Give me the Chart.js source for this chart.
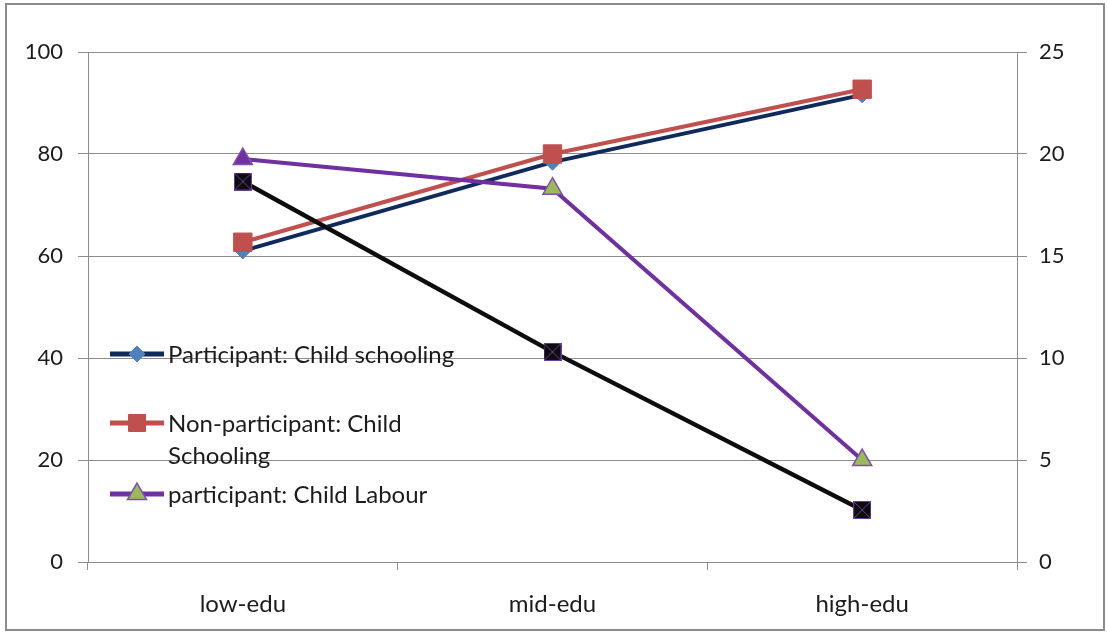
<!DOCTYPE html>
<html>
<head>
<meta charset="utf-8">
<script src="https://cdn.jsdelivr.net/npm/chart.js@4/dist/chart.umd.min.js"></script>
<style>
  html, body { margin: 0; padding: 0; background: #fff; }
  #wrap { position: relative; width: 1107px; height: 633px; }
</style>
</head>
<body>
<div id="wrap"><canvas id="c" width="1107" height="633"></canvas></div>
<script>
// Education levels along the category axis
const categories = ['low-edu', 'mid-edu', 'high-edu'];

// Schooling shares (left axis, %)
const participantSchooling = [61.0, 78.4, 91.6];
const nonParticipantSchooling = [62.7, 80.0, 92.7];

// Child labour (right axis)
const participantLabour = [19.75, 18.3, 5.0];
const nonParticipantLabour = [18.65, 10.3, 2.55];

// Axis tick settings
const leftTicks = { min: 0, max: 100, step: 20 };
const rightTicks = { min: 0, max: 25, step: 5 };

const FONT = 'Lato, "Open Sans", sans-serif';
const GRID = '#8c8c8c';
const TEXT = '#1c1c1c';

// Black square with a thin purple cross, used for the last series
function crossSquare(size) {
  const cv = document.createElement('canvas');
  cv.width = size; cv.height = size;
  const g = cv.getContext('2d');
  g.fillStyle = '#0d0d0d';
  g.fillRect(0, 0, size, size);
  g.strokeStyle = '#6a3d9a';
  g.lineWidth = 1;
  g.strokeRect(0.5, 0.5, size - 1, size - 1);
  g.beginPath();
  g.moveTo(1, 1); g.lineTo(size - 1, size - 1);
  g.moveTo(size - 1, 1); g.lineTo(1, size - 1);
  g.stroke();
  return cv;
}

// Outer frame around the whole figure
const framePlugin = {
  id: 'frame',
  beforeDraw(chart) {
    const ctx = chart.ctx;
    ctx.save();
    ctx.fillStyle = '#fff';
    ctx.fillRect(0, 0, chart.width, chart.height);
    ctx.strokeStyle = '#8a8a8a';
    ctx.lineWidth = 2;
    ctx.strokeRect(6, 4, 1098, 626);
    ctx.restore();
  }
};

// Legend drawn inside the plot area, with wrapped text
const insideLegend = {
  id: 'insideLegend',
  afterDraw(chart) {
    const ctx = chart.ctx;
    const area = chart.chartArea;
    const items = [
      { ds: 0, y: 354, lines: ['Participant: Child schooling'] },
      { ds: 1, y: 423, lines: ['Non-participant: Child', 'Schooling'] },
      { ds: 2, y: 494, lines: ['participant: Child Labour'] }
    ];
    const x0 = area.left + 22;
    ctx.save();
    items.forEach(it => {
      const ds = chart.data.datasets[it.ds];
      ctx.strokeStyle = ds.borderColor;
      ctx.lineWidth = 5;
      ctx.beginPath();
      ctx.moveTo(x0, it.y);
      ctx.lineTo(x0 + 54, it.y);
      ctx.stroke();
      const bg = Array.isArray(ds.pointBackgroundColor) ? ds.pointBackgroundColor[1] : ds.pointBackgroundColor;
      ctx.fillStyle = bg;
      ctx.strokeStyle = ds.pointBorderColor;
      ctx.lineWidth = ds.pointBorderWidth;
      Chart.helpers.drawPoint(ctx, {
        pointStyle: ds.pointStyle,
        radius: ds.legendRadius,
        rotation: 0,
        borderWidth: ds.pointBorderWidth
      }, x0 + 27, it.y);
      ctx.fillStyle = TEXT;
      ctx.font = '24px ' + FONT;
      ctx.textBaseline = 'middle';
      ctx.textAlign = 'left';
      it.lines.forEach((t, i) => ctx.fillText(t, x0 + 58, it.y + 1 + i * 32));
    });
    ctx.restore();
  }
};

new Chart(document.getElementById('c'), {
  type: 'line',
  data: {
    labels: categories,
    datasets: [
      {
        label: 'Participant: Child schooling',
        data: participantSchooling,
        yAxisID: 'y',
        borderColor: '#0f2a5c',
        borderWidth: 4,
        pointStyle: 'rectRot',
        pointRadius: 8,
        legendRadius: 8,
        pointBackgroundColor: '#4f81bd',
        pointBorderColor: '#4f81bd',
        pointBorderWidth: 1,
        order: 4
      },
      {
        label: 'Non-participant: Child Schooling',
        data: nonParticipantSchooling,
        yAxisID: 'y',
        borderColor: '#c0504d',
        borderWidth: 4,
        pointStyle: 'rect',
        pointRadius: 13,
        legendRadius: 12,
        pointBackgroundColor: '#c0504d',
        pointBorderColor: '#c0504d',
        pointBorderWidth: 1,
        order: 3
      },
      {
        label: 'participant: Child Labour',
        data: participantLabour,
        yAxisID: 'y1',
        borderColor: '#7030a0',
        borderWidth: 4,
        pointStyle: 'triangle',
        pointRadius: 11,
        legendRadius: 11,
        pointBackgroundColor: ['#7030a0', '#9bbb59', '#9bbb59'],
        pointBorderColor: '#7f4fb0',
        pointBorderWidth: 1.5,
        order: 2
      },
      {
        label: 'Non-participant: Child Labour',
        data: nonParticipantLabour,
        yAxisID: 'y1',
        borderColor: '#0d0d0d',
        borderWidth: 4.5,
        pointStyle: crossSquare(18),
        pointRadius: 9,
        legendRadius: 9,
        pointBackgroundColor: '#0d0d0d',
        pointBorderColor: '#0d0d0d',
        pointBorderWidth: 1,
        order: 1
      }
    ]
  },
  options: {
    responsive: false,
    animation: false,
    events: [],
    layout: { padding: { top: 52, left: 0, right: 0, bottom: 0 } },
    plugins: { legend: { display: false }, tooltip: { enabled: false } },
    elements: { line: { tension: 0 } },
    scales: {
      x: {
        type: 'category',
        offset: true,
        grid: { offset: true, drawOnChartArea: false, drawTicks: true, tickLength: 8, color: GRID, lineWidth: 1 },
        border: { display: true, color: GRID, width: 1 },
        ticks: { color: TEXT, font: { family: FONT, size: 24 }, padding: 20, maxRotation: 0 },
        afterFit(s) { s.height = 71; }
      },
      y: {
        position: 'left',
        min: leftTicks.min, max: leftTicks.max,
        grid: { color: GRID, lineWidth: 1, tickLength: 10, drawTicks: true },
        border: { display: true, color: GRID, width: 1 },
        ticks: { stepSize: leftTicks.step, color: TEXT, font: { family: FONT, size: 22 }, padding: 15 },
        afterFit(s) { s.width = 88; }
      },
      y1: {
        position: 'right',
        min: rightTicks.min, max: rightTicks.max,
        grid: { drawOnChartArea: false, color: GRID, lineWidth: 1, tickLength: 10, drawTicks: true },
        border: { display: true, color: GRID, width: 1 },
        ticks: { stepSize: rightTicks.step, color: TEXT, font: { family: FONT, size: 22 }, padding: 12 },
        afterFit(s) { s.width = 90; }
      }
    }
  },
  plugins: [framePlugin, insideLegend]
});
</script>
</body>
</html>
